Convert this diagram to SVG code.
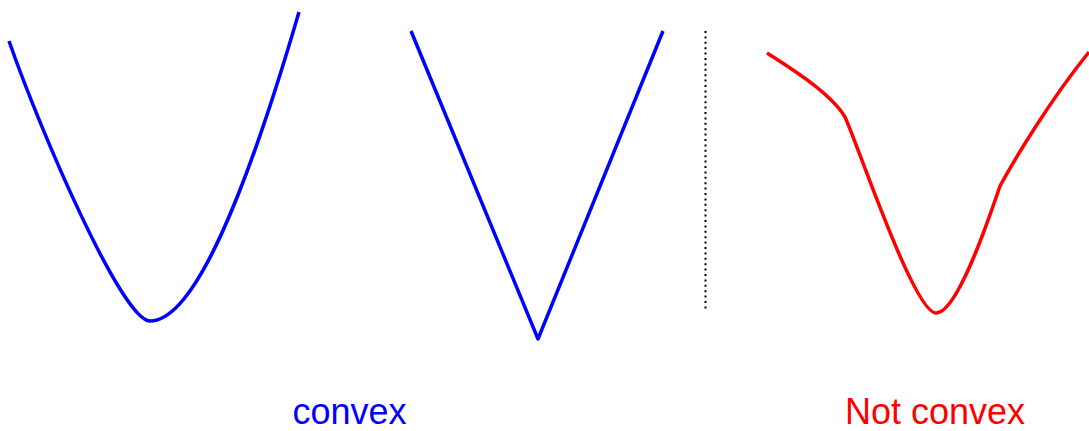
<svg xmlns="http://www.w3.org/2000/svg" width="1089" height="431" viewBox="0 0 1089 431">
<style>
.curve{fill:none;stroke-width:3.5;stroke-linejoin:round}
.blue{stroke:#0000FF}
.red{stroke:#FF0000}
.lbl{font-family:"Liberation Sans",Arial,sans-serif;font-size:36px}
</style>
<rect width="1089" height="431" fill="#fff"/>
<g id="smooth-convex">
<path class="curve blue" d="M9,41 C40,130 122,321 150,321 C195,321 247,190 299,12"/>
</g>
<g id="v-convex">
<polyline class="curve blue" points="411,31 538,339 663,31"/>
</g>
<g id="divider">
<line x1="705.5" y1="31" x2="705.5" y2="310" stroke="#000" stroke-width="2" stroke-dasharray="2,3.4"/>
</g>
<g id="nonconvex">
<path class="curve red" d="M767,53 C797,72 832,95 845,117 C858,145 914,313 936,313 C958,313 990,215 1000,186 C1013,162 1050,100 1089,52"/>
</g>
<g id="labels">
<text class="lbl" x="349.5" y="423.5" fill="#0000FF" text-anchor="middle">convex</text>
<text class="lbl" x="935" y="423.5" fill="#FF0000" text-anchor="middle">Not convex</text>
</g>
</svg>
